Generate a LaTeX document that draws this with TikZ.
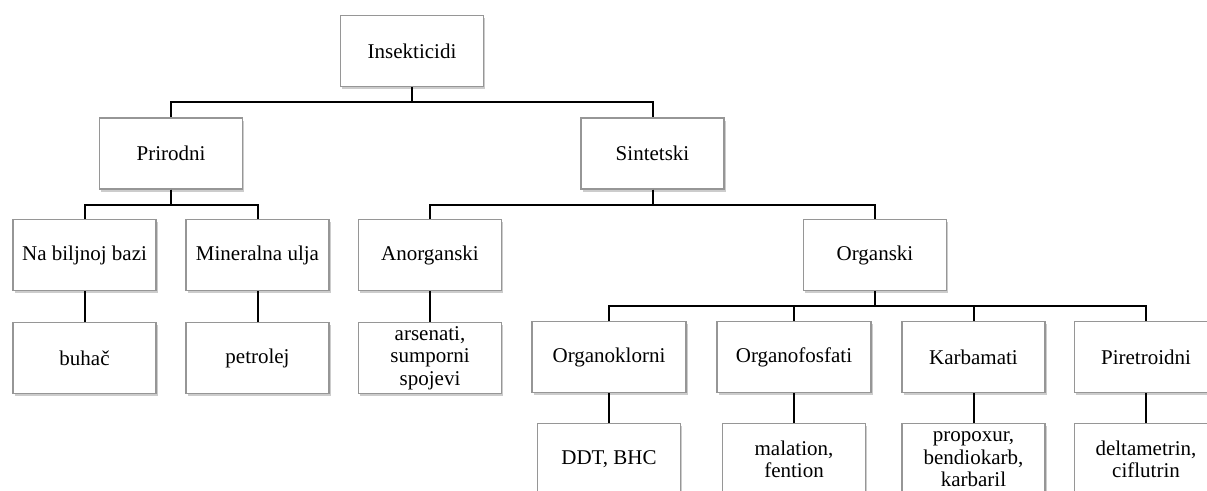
\documentclass[tikz,border=0pt]{standalone}
\usepackage{fontspec}
\setmainfont{Liberation Serif}
\usetikzlibrary{positioning, shadows}
\definecolor{boxline}{RGB}{150,150,150}

\begin{document}
\begin{tikzpicture}[
  x=0.5pt, y=-0.5pt,
  node distance=15.5pt,
  box/.style={draw=boxline, fill=white, line width=0.6pt, minimum width=71.5pt,
              minimum height=35.5pt, inner sep=1pt, align=center,
              font=\fontsize{10.5}{11.3}\selectfont,
              drop shadow={shadow xshift=0.8pt, shadow yshift=-1.3pt, opacity=0.4}},
  wide/.style={box, minimum width=77pt},
  link/.style={line width=1pt, black}
]
  \useasboundingbox (0,0) rectangle (1207,491);
  % top levels
  \node[box] (insekt) at (412,51) {Insekticidi};
  \node[box] (prirodni) at (171,153.5) {Prirodni};
  \node[box] (sintetski) at (652.5,153.5) {Sintetski};
  \node[box] (biljni) at (84.5,255) {Na biljnoj bazi};
  \node[box] (mineral) at (257.5,255) {Mineralna ulja};
  \node[box] (anorg) at (430,255) {Anorganski};
  \node[box] (organski) at (875,255) {Organski};
  \node[box, below=of biljni] (buhac) {buhač};
  \node[box, below=of mineral] (petrolej) {petrolej};
  \node[box, below=of anorg] (arsenati) {arsenati,\\sumporni\\spojevi};
  % organski groups
  \node[wide] (klor) at (609,357) {Organoklorni};
  \node[wide] (fosf) at (794,357) {Organofosfati};
  \node[box] (karb) at (973.5,357) {Karbamati};
  \node[box] (piret) at (1146,357) {Piretroidni};
  \node[box, below=15pt of klor] (ddt) {DDT, BHC};
  \node[box, below=15pt of fosf] (malation) {malation,\\fention};
  \node[box, below=15pt of karb] (propoxur) {propoxur,\\bendiokarb,\\karbaril};
  \node[box, below=15pt of piret] (delta) {deltametrin,\\ciflutrin};

  \foreach \kid in {prirodni, sintetski}
    \draw[link] (insekt.south) -- ++(0,15) -| (\kid.north);
  \foreach \kid in {biljni, mineral}
    \draw[link] (prirodni.south) -- ++(0,15) -| (\kid.north);
  \foreach \kid in {anorg, organski}
    \draw[link] (sintetski.south) -- ++(0,15) -| (\kid.north);
  \foreach \kid in {klor, fosf, karb, piret}
    \draw[link] (organski.south) -- ++(0,15) -| (\kid.north);
  \draw[link] (biljni) -- (buhac);
  \draw[link] (mineral) -- (petrolej);
  \draw[link] (anorg) -- (arsenati);
  \draw[link] (klor) -- (ddt);
  \draw[link] (fosf) -- (malation);
  \draw[link] (karb) -- (propoxur);
  \draw[link] (piret) -- (delta);
\end{tikzpicture}
\end{document}
